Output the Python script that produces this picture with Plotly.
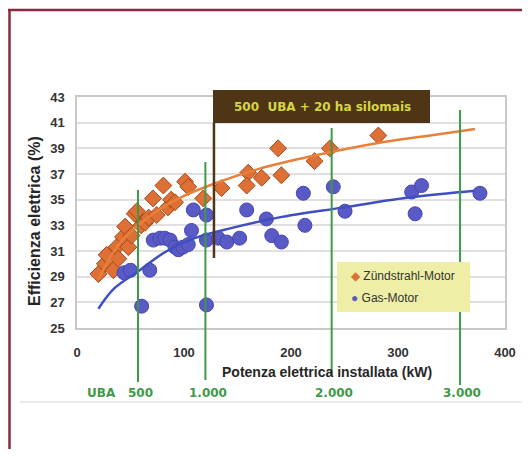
import plotly.graph_objects as go

# ---------------- data ----------------
zund_kw = [20, 26, 27.7, 34, 37, 38.6, 43, 45, 48, 51, 54, 56, 60, 63.6, 67, 71, 74.5, 80.7,
           85, 88, 91.6, 101, 104, 118, 135, 160, 158.6, 172.6, 188, 191, 222, 236.4, 281.6]
zund_eff = [29.2, 30.0, 30.7, 29.5, 31.3, 30.4, 32.1, 32.9, 31.3, 32.2, 33.9, 34.1, 33.0, 33.2, 33.6, 35.1, 33.8, 36.1,
            34.4, 35.0, 34.8, 36.4, 36.0, 35.1, 35.9, 37.1, 36.1, 36.7, 39.0, 36.9, 38.0, 39.0, 40.0]

gas_kw = [44, 50, 68, 60.4, 121, 71.3, 77.6, 82, 87, 91.6, 94.7, 99, 104, 107, 108.7, 121, 121,
          132, 140, 152, 158.6, 177, 182, 191, 211.5, 213, 239.5, 250.5, 312.8, 322, 316, 376.6]
gas_eff = [29.3, 29.5, 29.5, 26.7, 26.8, 31.85, 32.0, 32.0, 31.85, 31.3, 31.1, 31.3, 31.5, 32.6, 34.2, 33.8, 31.85,
           32.0, 31.7, 32.0, 34.2, 33.5, 32.2, 31.7, 35.5, 33.0, 36.0, 34.1, 35.6, 36.1, 33.9, 35.5]

# trend lines
zund_trend_kw = [20, 40, 60, 80, 100, 130, 170, 220, 280, 330, 372]
zund_trend_eff = [28.8, 31.6, 33.2, 34.4, 35.3, 36.3, 37.4, 38.4, 39.4, 40.0, 40.5]
gas_trend_kw = [20, 35, 57, 82, 110, 145, 188, 250, 313, 372]
gas_trend_eff = [26.5, 28.1, 29.4, 30.9, 32.0, 32.8, 33.6, 34.4, 35.2, 35.7]

uba_kw = [57, 120, 238, 358]
uba_labels = ["500", "1.000", "2.000", "3.000"]
x_ticks = [0, 100, 200, 300, 400]
y_ticks = list(range(25, 44, 2))

# ---------------- geometry (page pixels; page body has an 8px margin) ----------------
OFF = 8
W, H = 530 - OFF, 457 - 2 * OFF
L, R, T, B = 77, 505, 97, 328   # plot area in page pixels


def px(p):
    return (p - L) / (R - L)


def py(p):
    return (B - p) / (B - T)


fig = go.Figure()

fig.add_trace(go.Scatter(x=zund_kw, y=zund_eff, mode="markers", name="Zündstrahl-Motor",
                         marker=dict(symbol="diamond", size=13, color="#de6f35",
                                     line=dict(color="#a44a1a", width=1)), showlegend=False))
fig.add_trace(go.Scatter(x=gas_kw, y=gas_eff, mode="markers", name="Gas-Motor",
                         marker=dict(symbol="circle", size=14, color="#5a5ac6",
                                     line=dict(color="#4747b0", width=1)), showlegend=False))
fig.add_trace(go.Scatter(x=zund_trend_kw, y=zund_trend_eff, mode="lines", line_shape="spline",
                         line=dict(color="#e8803a", width=2.5), showlegend=False))
fig.add_trace(go.Scatter(x=gas_trend_kw, y=gas_trend_eff, mode="lines", line_shape="spline",
                         line=dict(color="#3f4fbf", width=2.5), showlegend=False))

shapes = []
# outer dark-red frame (top and left edges visible)
shapes.append(dict(type="line", xref="paper", yref="paper", x0=px(8), x1=px(530), y0=py(10), y1=py(10),
                   line=dict(color="#8a2a40", width=2.5), layer="below"))
shapes.append(dict(type="line", xref="paper", yref="paper", x0=px(9.5), x1=px(9.5), y0=py(9), y1=py(457),
                   line=dict(color="#8a2a40", width=2.5), layer="below"))
# light gray line below labels
shapes.append(dict(type="line", xref="paper", yref="paper", x0=px(20), x1=px(530), y0=py(402), y1=py(402),
                   line=dict(color="#e4e4e4", width=1.5)))
# green UBA lines
green_top = [190, 162, 128, 110]
green_bot = [382, 380, 375, 385]
for k, t0, b0 in zip(uba_kw, green_top, green_bot):
    shapes.append(dict(type="line", xref="x", yref="paper", x0=k, x1=k, y0=py(b0), y1=py(t0),
                       line=dict(color="#3e9a46", width=2)))
# brown line and box
shapes.append(dict(type="line", xref="x", yref="paper", x0=128, x1=128, y0=py(258), y1=py(123),
                   line=dict(color="#4d3515", width=2.5)))
shapes.append(dict(type="rect", xref="paper", yref="paper", x0=px(213), x1=px(430), y0=py(123), y1=py(90),
                   fillcolor="#4d3515", line=dict(width=0)))
# legend box
shapes.append(dict(type="rect", xref="paper", yref="paper", x0=px(337), x1=px(470), y0=py(312), y1=py(262),
                   fillcolor="#eeeea6", line=dict(width=0)))

C = dict(xanchor="center", yanchor="middle", showarrow=False)
ann = []
ann.append(dict(text="500  UBA + 20 ha silomais", xref="paper", yref="paper", x=px(322), y=py(107), **C,
                font=dict(family="DejaVu Sans", size=12, color="#d6d640", weight="bold")))
ann.append(dict(text="UBA", xref="paper", yref="paper", x=px(101), y=py(393), **C,
                font=dict(family="DejaVu Sans", size=12, color="#3e9a46", weight="bold")))
for k, lab in zip(uba_kw, uba_labels):
    ann.append(dict(text=lab, xref="x", yref="paper", x=k + 2, y=py(393), **C,
                    font=dict(family="DejaVu Sans", size=12, color="#3e9a46", weight="bold")))
ann.append(dict(text="Efficienza elettrica (%)", xref="paper", yref="paper", x=px(34), y=py(221),
                textangle=-90, **C,
                font=dict(family="Liberation Sans", size=16, color="#262626", weight="bold")))
ann.append(dict(text="Potenza elettrica installata (kW)", xref="paper", yref="paper", x=px(327), y=py(372), **C,
                font=dict(family="Liberation Sans", size=14, color="#262626", weight="bold")))
ann.append(dict(text="<span style='color:#de6f35'>◆</span> Zündstrahl-Motor", xref="paper", yref="paper",
                x=px(349), y=py(276), xanchor="left", yanchor="middle", showarrow=False,
                font=dict(family="Liberation Sans", size=12, color="#333333")))
ann.append(dict(text="<span style='color:#5a5ac6'>●</span> Gas-Motor", xref="paper", yref="paper",
                x=px(349), y=py(298), xanchor="left", yanchor="middle", showarrow=False,
                font=dict(family="Liberation Sans", size=12, color="#333333")))

fig.update_layout(
    width=W, height=H,
    margin=dict(l=L - OFF, r=530 - R, t=T - OFF, b=H - (B - OFF)),
    paper_bgcolor="white", plot_bgcolor="white",
    shapes=shapes, annotations=ann,
    showlegend=False,
    xaxis=dict(range=[0, 400], tickvals=x_ticks, showgrid=False, zeroline=False,
               showline=True, linecolor="#c8c8c8", linewidth=1.5, mirror=True,
               ticks="", ticklabelstandoff=12,
               tickfont=dict(family="Liberation Sans", size=13, color="#333333", weight="bold")),
    yaxis=dict(range=[25, 43], tickvals=y_ticks, showgrid=True, gridcolor="#e0e0e0", gridwidth=1.5,
               zeroline=False, showline=True, linecolor="#c8c8c8", linewidth=1.5, mirror=True,
               ticks="", ticklabelstandoff=8,
               tickfont=dict(family="Liberation Sans", size=13, color="#333333", weight="bold")),
)

fig.write_html("out.html")
